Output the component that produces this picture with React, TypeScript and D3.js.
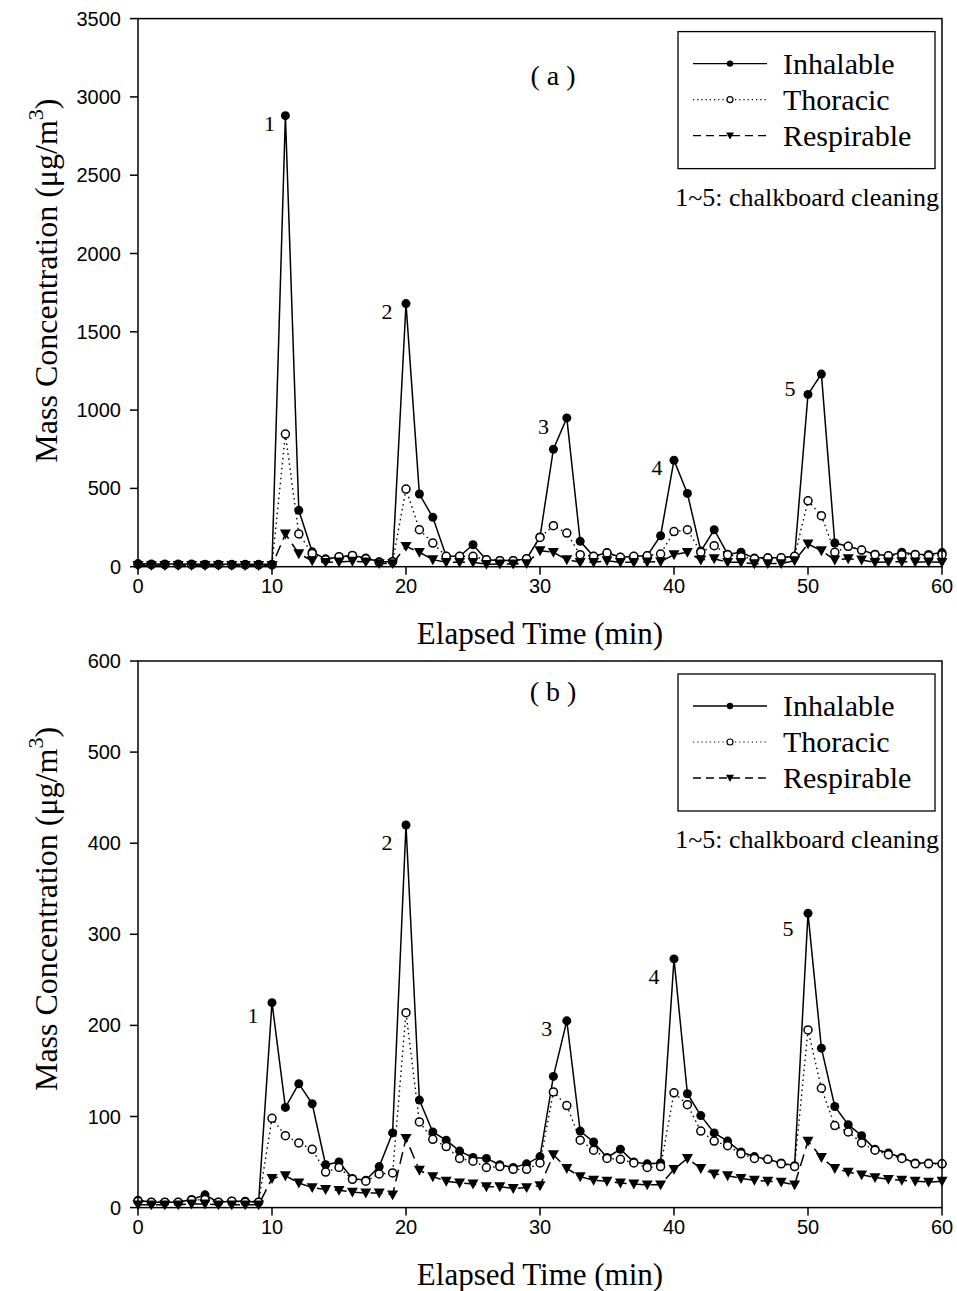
import React from "react";
import * as d3 from "d3";

const minutes = d3.range(0, 61);

// Panel (a)
const inhalableA = [20, 18, 18, 17, 17, 16, 16, 15, 15, 15, 15, 2880, 360, 95, 50, 62, 72, 55, 32, 32, 1680, 464, 315, 66, 66, 140, 45, 40, 40, 50, 190, 750, 950, 162, 66, 90, 60, 66, 70, 198, 680, 468, 100, 236, 80, 92, 55, 57, 57, 66, 1100, 1230, 151, 130, 106, 80, 70, 92, 80, 78, 90];
const thoracicA = [14, 13, 13, 13, 13, 13, 13, 12, 12, 12, 12, 847, 209, 85, 45, 64, 72, 51, 28, 32, 496, 236, 151, 66, 66, 66, 45, 38, 38, 51, 187, 262, 215, 77, 66, 87, 60, 66, 70, 81, 224, 236, 92, 134, 77, 64, 51, 55, 57, 66, 421, 326, 92, 130, 106, 77, 70, 77, 77, 70, 77];
const respirableA = [8, 8, 8, 8, 8, 8, 8, 8, 8, 8, 8, 209, 83, 38, 28, 30, 35, 30, 20, 20, 130, 92, 45, 28, 28, 28, 15, 18, 18, 20, 102, 92, 45, 28, 28, 38, 28, 28, 30, 32, 77, 92, 43, 51, 28, 28, 19, 20, 20, 38, 145, 102, 43, 51, 43, 28, 30, 32, 30, 30, 28];

// Panel (b)
const inhalableB = [8, 6, 6, 6, 9, 14, 6, 7, 7, 6, 225, 110, 136, 114, 47, 50, 32, 30, 45, 82, 420, 118, 83, 74, 62, 55, 54, 47, 44, 48, 56, 144, 205, 84, 72, 55, 64, 50, 48, 49, 273, 125, 101, 82, 73, 61, 56, 53, 49, 46, 323, 175, 111, 91, 79, 64, 60, 55, 49, 49, 48];
const thoracicB = [7, 6, 6, 6, 8, 9, 6, 7, 6, 6, 98, 79, 71, 64, 39, 44, 31, 29, 37, 38, 214, 94, 75, 67, 54, 51, 44, 45, 42, 42, 49, 127, 112, 74, 63, 54, 53, 49, 44, 45, 126, 113, 84, 73, 68, 59, 54, 53, 48, 45, 195, 131, 90, 83, 71, 63, 58, 54, 48, 48, 48];
const respirableB = [3, 3, 3, 3, 4, 4, 3, 3, 3, 3, 32, 35, 27, 22, 20, 19, 17, 16, 16, 14, 76, 41, 34, 29, 27, 26, 23, 23, 21, 22, 24, 58, 43, 34, 30, 29, 27, 26, 25, 25, 42, 54, 43, 37, 35, 32, 30, 29, 28, 25, 73, 55, 43, 39, 36, 33, 31, 30, 29, 28, 29];

const xTicks = [0, 10, 20, 30, 40, 50, 60];
const yTicksA = [0, 500, 1000, 1500, 2000, 2500, 3000, 3500];
const yTicksB = [0, 100, 200, 300, 400, 500, 600];

const seriesNames = ["Inhalable", "Thoracic", "Respirable"];
const eventLabels = ["1", "2", "3", "4", "5"];
const eventMinutesA = [11, 20, 31, 40, 50];
const eventMinutesB = [10, 20, 32, 40, 50];

const SERIF = "'Liberation Serif', 'Times New Roman', serif";
const SANS = "'Liberation Sans', Arial, sans-serif";

const X0 = 138;
const X1 = 942;

function triDown(cx: number, cy: number, s: number) {
  return `M${cx - s},${cy - s * 0.8}L${cx + s},${cy - s * 0.8}L${cx},${cy + s}Z`;
}

type PanelProps = {
  top: number;
  bottom: number;
  yMax: number;
  yTicks: number[];
  inh: number[];
  tho: number[];
  res: number[];
  tag: string;
  tagOffset: number;
  titleOffset: number;
  eventMinutes: number[];
  eventOffsets: [number, number][];
};

function Panel(p: PanelProps) {
  const x = d3.scaleLinear().domain([0, 60]).range([X0, X1]);
  const y = d3.scaleLinear().domain([0, p.yMax]).range([p.bottom, p.top]);
  const line = d3
    .line<number>()
    .x((_, i) => x(minutes[i]))
    .y((d) => y(d));
  const labelCenterY = p.top + p.titleOffset;
  const legTop = p.top + 13;
  return (
    <g>
      <path d={line(p.inh) || ""} fill="none" stroke="#000" strokeWidth={1.5} />
      <path d={line(p.tho) || ""} fill="none" stroke="#000" strokeWidth={1.4} strokeDasharray="1.5,3.5" />
      <path d={line(p.res) || ""} fill="none" stroke="#000" strokeWidth={1.5} strokeDasharray="12,6" />
      {p.inh.map((v, i) => (
        <circle key={"i" + i} cx={x(minutes[i])} cy={y(v)} r={4.5} fill="#000" />
      ))}
      {p.tho.map((v, i) => (
        <circle key={"t" + i} cx={x(minutes[i])} cy={y(v)} r={4} fill="#fff" stroke="#000" strokeWidth={1.5} />
      ))}
      {p.res.map((v, i) => (
        <path key={"r" + i} d={triDown(x(minutes[i]), y(v), 5.5)} fill="#000" />
      ))}
      <rect x={X0} y={p.top} width={X1 - X0} height={p.bottom - p.top} fill="none" stroke="#000" strokeWidth={1.5} />
      {p.yTicks.map((t) => (
        <g key={"yt" + t}>
          <line x1={X0 - 8} x2={X0} y1={y(t)} y2={y(t)} stroke="#000" strokeWidth={1.5} />
          <text x={121} y={y(t) + 7} textAnchor="end" fontFamily={SANS} fontSize={20}>
            {t}
          </text>
        </g>
      ))}
      {xTicks.map((t) => (
        <g key={"xt" + t}>
          <line x1={x(t)} x2={x(t)} y1={p.bottom} y2={p.bottom + 8} stroke="#000" strokeWidth={1.5} />
          <text x={x(t)} y={p.bottom + 26} textAnchor="middle" fontFamily={SANS} fontSize={20}>
            {t}
          </text>
        </g>
      ))}
      <text x={(X0 + X1) / 2} y={p.bottom + 77} textAnchor="middle" fontFamily={SERIF} fontSize={31}>
        Elapsed Time (min)
      </text>
      <text
        transform={`translate(57,${labelCenterY}) rotate(-90)`}
        textAnchor="middle"
        fontFamily={SERIF}
        fontSize={32}
      >
        Mass Concentration (μg/m
        <tspan dy={-14} fontSize={22}>3</tspan>
        <tspan dy={14}>)</tspan>
      </text>
      <text x={553} y={p.top + p.tagOffset} textAnchor="middle" fontFamily={SERIF} fontSize={28}>
        {`( ${p.tag} )`}
      </text>
      {eventLabels.map((lab, k) => {
        const m = p.eventMinutes[k];
        const [dx, dy] = p.eventOffsets[k];
        return (
          <text key={"ev" + k} x={x(m) + dx} y={y(p.inh[m]) + dy} textAnchor="middle" fontFamily={SERIF} fontSize={22}>
            {lab}
          </text>
        );
      })}
      <rect x={678} y={legTop} width={257} height={137} fill="#fff" stroke="#000" strokeWidth={1.3} />
      {seriesNames.map((name, k) => {
        const ly = legTop + 32 + k * 36;
        return (
          <g key={"lg" + k}>
            <line
              x1={693}
              x2={767}
              y1={ly}
              y2={ly}
              stroke="#000"
              strokeWidth={k === 1 ? 1.2 : 1.4}
              strokeDasharray={k === 0 ? undefined : k === 1 ? "1.2,3" : "8,5"}
            />
            {k === 0 && <circle cx={730} cy={ly} r={3.2} fill="#000" />}
            {k === 1 && <circle cx={730} cy={ly} r={3} fill="#fff" stroke="#000" strokeWidth={1.2} />}
            {k === 2 && <path d={triDown(730, ly, 4)} fill="#000" />}
            <text x={783} y={ly + 10} fontFamily={SERIF} fontSize={30}>
              {name}
            </text>
          </g>
        );
      })}
      <text x={939} y={p.top + 187} textAnchor="end" fontFamily={SERIF} fontSize={26}>
        1~5: chalkboard cleaning
      </text>
    </g>
  );
}

export default function App() {
  return (
    <svg
      width={957}
      height={1291}
      viewBox="0 0 957 1291"
      style={{ position: "absolute", left: 0, top: 0, background: "#fff" }}
    >
      <rect x={0} y={0} width={957} height={1291} fill="#fff" />
      <Panel
        top={18.6}
        bottom={566.7}
        yMax={3500}
        yTicks={yTicksA}
        inh={inhalableA}
        tho={thoracicA}
        res={respirableA}
        tag="a"
        tagOffset={66}
        titleOffset={262}
        eventMinutes={eventMinutesA}
        eventOffsets={[[-16, 15], [-19, 15], [-10, -15], [-17, 15], [-18, 2]]}
      />
      <Panel
        top={661}
        bottom={1207.6}
        yMax={600}
        yTicks={yTicksB}
        inh={inhalableB}
        tho={thoracicB}
        res={respirableB}
        tag="b"
        tagOffset={40}
        titleOffset={248}
        eventMinutes={eventMinutesB}
        eventOffsets={[[-19, 20], [-19, 25], [-20, 15], [-20, 25], [-20, 23]]}
      />
    </svg>
  );
}
